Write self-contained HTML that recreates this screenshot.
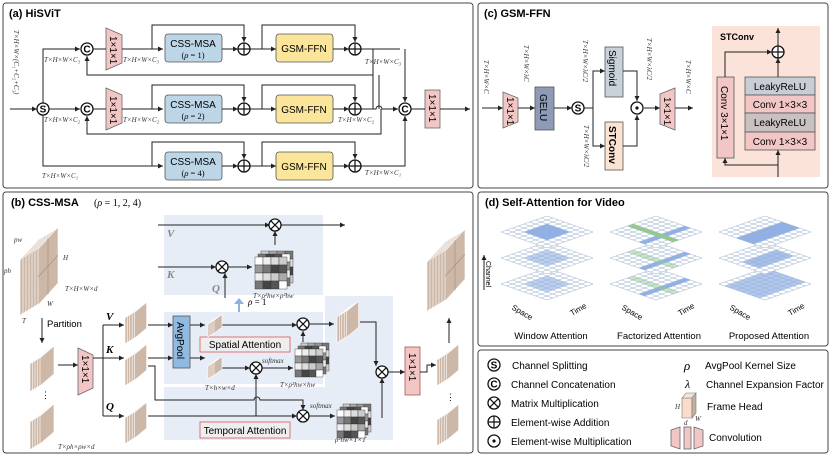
<!DOCTYPE html>
<html><head><meta charset="utf-8"><style>
body{margin:0;background:#fff}
svg{display:block}
.t{font-family:"Liberation Sans",sans-serif}
.ti{font-family:"Liberation Sans",sans-serif;font-weight:bold;font-size:11px}
.m{font-family:"Liberation Serif",serif;font-style:italic;font-size:7px;fill:#333}
.bx{font-family:"Liberation Sans",sans-serif;font-size:10px}
.ln{stroke:#222;stroke-width:1;fill:none}
</style></head><body>
<svg id="s" width="831" height="456" viewBox="0 0 831 456" xmlns="http://www.w3.org/2000/svg">
<defs>
<marker id="a" markerWidth="6" markerHeight="6" refX="5" refY="3" orient="auto" markerUnits="userSpaceOnUse"><path d="M0,0.5L5,3L0,5.5z" fill="#222"/></marker>
</defs>
<rect x="3" y="3" width="470" height="185" rx="3" fill="none" stroke="#444"/>
<rect x="478" y="3" width="350" height="185" rx="3" fill="none" stroke="#444"/>
<rect x="3" y="192" width="470" height="261" rx="3" fill="none" stroke="#444"/>
<rect x="478" y="192" width="350" height="154" rx="3" fill="none" stroke="#444"/>
<rect x="478" y="350" width="350" height="103" rx="3" fill="none" stroke="#444"/>
<text class="ti" x="9" y="17">(a) HiSViT</text>
<text class="ti" x="484" y="17">(c) GSM-FFN</text>
<text class="ti" x="11" y="206">(b) CSS-MSA</text>
<text x="94" y="206" font-family="Liberation Serif" font-size="10">(<tspan font-style="italic">ρ</tspan> = 1, 2, 4)</text>
<text class="ti" x="485" y="206">(d) Self-Attention for Video</text>

<!-- ===== (a) ===== -->
<g id="pa">
<line class="ln" x1="10" y1="109" x2="37" y2="109" marker-end="url(#a)"/>
<text class="m" transform="translate(14,30) rotate(90)">T×H×W×(C₁+C₂+C₃)</text>
<path class="ln" d="M43,103V49H80" marker-end="url(#a)"/>
<line class="ln" x1="49" y1="109" x2="80" y2="109" marker-end="url(#a)"/>
<path class="ln" d="M43,115V166H163" marker-end="url(#a)"/>
<text class="m" x="44" y="62">T×H×W×C₃</text>
<text class="m" x="44" y="122">T×H×W×C₂</text>
<text class="m" x="42" y="178">T×H×W×C₁</text>
<g fill="#f3c6c6" stroke="#666" stroke-width="0.8">
<polygon points="106,28 122,35 122,63 106,70"/>
<polygon points="106,88 122,95 122,123 106,130"/>
</g>
<text class="bx" font-size="11" transform="translate(110,36) rotate(90)">1×1×1</text>
<text class="bx" font-size="11" transform="translate(110,96) rotate(90)">1×1×1</text>
<line class="ln" x1="93" y1="49" x2="106" y2="49"/><line class="ln" x1="93" y1="109" x2="106" y2="109"/>
<line class="ln" x1="122" y1="49" x2="163" y2="49" marker-end="url(#a)"/>
<line class="ln" x1="122" y1="109" x2="163" y2="109" marker-end="url(#a)"/>
<text class="m" x="123" y="62">T×H×W×C₃</text>
<text class="m" x="123" y="122">T×H×W×C₂</text>
<g fill="#bcd6e8" stroke="#555" stroke-width="0.8">
<rect x="165" y="34" width="57" height="28" rx="3"/><rect x="165" y="95" width="57" height="28" rx="3"/><rect x="165" y="152" width="57" height="28" rx="3"/>
</g>
<g class="bx" text-anchor="middle" font-size="11.5">
<text x="193" y="47">CSS-MSA</text><text x="193" y="108">CSS-MSA</text><text x="193" y="165">CSS-MSA</text>
</g>
<g font-family="Liberation Serif" font-size="8.5" text-anchor="middle">
<text x="193" y="58">(<tspan font-style="italic">ρ</tspan> = 1)</text><text x="193" y="119">(<tspan font-style="italic">ρ</tspan> = 2)</text><text x="193" y="176">(<tspan font-style="italic">ρ</tspan> = 4)</text>
</g>
<g fill="#fbe59a" stroke="#555" stroke-width="0.8">
<rect x="276" y="34" width="57" height="28" rx="3"/><rect x="276" y="95" width="57" height="28" rx="3"/><rect x="276" y="152" width="57" height="28" rx="3"/>
</g>
<g class="bx" text-anchor="middle" font-size="11.5">
<text x="304" y="52">GSM-FFN</text><text x="304" y="113">GSM-FFN</text><text x="304" y="170">GSM-FFN</text>
</g>
<path class="ln" d="M373,49H400" />
<path class="ln" d="M373,75H87V56" marker-end="url(#a)"/>
<path class="ln" d="M373,49V109"/>
<path class="ln" d="M379,75V109"/>
<path class="ln" d="M365,109H376a3,3 0 0 1 6,0H398" marker-end="url(#a)"/>
<path class="ln" d="M405,49V102" marker-end="url(#a)"/>
<path class="ln" d="M381,109V134H87V116" marker-end="url(#a)"/>
<path class="ln" d="M365,166H405V116" marker-end="url(#a)"/>
<text class="m" x="365" y="64">T×H×W×C₃</text>
<text class="m" x="338" y="122">T×H×W×C₂</text>
<text class="m" x="365" y="175">T×H×W×C₁</text>
<rect x="425" y="90" width="15" height="38" fill="#f3c6c6" stroke="#666" stroke-width="0.8"/>
<text class="bx" font-size="11" transform="translate(429,94) rotate(90)">1×1×1</text>
<line class="ln" x1="411" y1="109" x2="425" y2="109"/>
<line class="ln" x1="440" y1="109" x2="470" y2="109" marker-end="url(#a)"/>
</g>

<!-- ===== (c) ===== -->
<line class="ln" x1="482" y1="108" x2="503" y2="108" marker-end="url(#a)"/>
<polygon points="503,92 518,98 518,122 503,128" fill="#f3c6c6" stroke="#666" stroke-width="0.8"/>
<text class="bx" transform="translate(507,97) rotate(90)">1×1×1</text>
<line class="ln" x1="518" y1="108" x2="535" y2="108" marker-end="url(#a)"/>
<rect x="535" y="87" width="19" height="43" fill="#8e9bb6" stroke="#555" stroke-width="0.8"/>
<text class="bx" font-size="11" transform="translate(540,94) rotate(90)">GELU</text>
<line class="ln" x1="554" y1="108" x2="572" y2="108" marker-end="url(#a)"/>
<path class="ln" d="M584,108H593M593,108V71H605" marker-end="url(#a)"/>
<path class="ln" d="M593,108V146H605" marker-end="url(#a)"/>
<rect x="605" y="47" width="18" height="50" fill="#c9d1da" stroke="#555" stroke-width="0.8"/>
<text class="bx" font-size="11" transform="translate(609,50) rotate(90)">Sigmoid</text>
<rect x="605" y="122" width="18" height="48" fill="#fbe3d2" stroke="#555" stroke-width="0.8"/>
<text class="bx" font-size="11" font-weight="bold" transform="translate(609,126) rotate(90)">STConv</text>
<path class="ln" d="M623,71H637V101" marker-end="url(#a)"/>
<path class="ln" d="M623,146H637V115" marker-end="url(#a)"/>
<line class="ln" x1="644" y1="108" x2="660" y2="108" marker-end="url(#a)"/>
<polygon points="660,94 675,88 675,130 660,124" fill="#f3c6c6" stroke="#666" stroke-width="0.8"/>
<text class="bx" transform="translate(664,97) rotate(90)">1×1×1</text>
<line class="ln" x1="675" y1="108" x2="693" y2="108" marker-end="url(#a)"/>
<text class="m" transform="translate(484,60) rotate(90)">T×H×W×C</text>
<text class="m" transform="translate(524,45) rotate(90)">T×H×W×λC</text>
<text class="m" transform="translate(583,40) rotate(90)">T×H×W×λC/2</text>
<text class="m" transform="translate(584,125) rotate(90)">T×H×W×λC/2</text>
<text class="m" transform="translate(647,38) rotate(90)">T×H×W×λC/2</text>
<text class="m" transform="translate(686,60) rotate(90)">T×H×W×C</text>
<rect x="712" y="26" width="108" height="151" fill="#fbe3d9"/>
<text class="t" font-weight="bold" font-size="9" x="720" y="40">STConv</text>
<rect x="717" y="77" width="17" height="81" fill="#f3c6c6" stroke="#555" stroke-width="0.8"/>
<text class="bx" font-size="9.5" transform="translate(721,86) rotate(90)">Conv 3×1×1</text>
<g stroke="#555" stroke-width="0.8">
<rect x="745" y="77" width="70" height="18" fill="#c9ced6"/>
<rect x="745" y="95" width="70" height="18" fill="#f3c6c6"/>
<rect x="745" y="113" width="70" height="19" fill="#c9c1c1"/>
<rect x="745" y="132" width="70" height="18" fill="#f3c6c6"/>
</g>
<g class="bx" font-size="9.5" text-anchor="middle">
<text x="780" y="90">LeakyReLU</text><text x="780" y="108">Conv 1×3×3</text><text x="780" y="126">LeakyReLU</text><text x="780" y="145">Conv 1×3×3</text>
</g>
<path class="ln" d="M778,177V150" marker-end="url(#a)"/>
<path class="ln" d="M778,165H725V158" marker-end="url(#a)"/>
<path class="ln" d="M778,77V58" marker-end="url(#a)"/>
<path class="ln" d="M725,77V52H772" marker-end="url(#a)"/>
<path class="ln" d="M778,46V28" marker-end="url(#a)"/>

<!-- ===== (b) ===== -->
<rect x="164" y="215" width="159" height="80" fill="#e6edf7"/>
<rect x="164" y="312" width="159" height="72" fill="#e6edf7"/>
<rect x="164" y="387" width="229" height="53" fill="#e6edf7"/>
<rect x="325" y="296" width="68" height="144" fill="#e6edf7"/>
<line class="ln" x1="42" y1="318" x2="42" y2="343" marker-end="url(#a)"/>
<text class="t" font-size="9.5" x="47" y="327">Partition</text>
<text class="t" font-size="9" x="41" y="398">⋮</text>
<text class="m" x="58" y="449">T×ρh×ρw×d</text>
<text class="m" x="65" y="291">T×H×W×d</text>
<text class="m" x="63" y="260">H</text><text class="m" x="47" y="306">W</text><text class="m" x="22" y="323">T</text>
<text class="m" x="14" y="242">pw</text><text class="m" x="4" y="273">ph</text>
<line class="ln" x1="58" y1="365" x2="78" y2="365" marker-end="url(#a)"/>
<polygon points="78,348 93,355 93,388 78,395" fill="#f3c6c6" stroke="#666" stroke-width="0.8"/>
<text class="bx" font-size="11" transform="translate(82,355) rotate(90)">1×1×1</text>
<path class="ln" d="M93,358H103M103,325V416"/>
<line class="ln" x1="103" y1="325" x2="124" y2="325" marker-end="url(#a)"/>
<line class="ln" x1="103" y1="358" x2="124" y2="358" marker-end="url(#a)"/>
<line class="ln" x1="103" y1="416" x2="124" y2="416" marker-end="url(#a)"/>
<g font-family="Liberation Serif" font-weight="bold" font-style="italic" font-size="11">
<text x="106" y="320">V</text><text x="106" y="353">K</text><text x="106" y="410">Q</text>
</g>
<g font-family="Liberation Serif" font-weight="bold" font-style="italic" font-size="11" fill="#888">
<text x="167" y="237">V</text><text x="167" y="278">K</text><text x="212" y="292">Q</text>
</g>
<line class="ln" x1="158" y1="225" x2="270" y2="225" marker-end="url(#a)"/>
<line class="ln" x1="280" y1="225" x2="345" y2="225" marker-end="url(#a)"/>
<line class="ln" x1="158" y1="267" x2="216" y2="267" marker-end="url(#a)"/>
<line class="ln" x1="228" y1="267" x2="252" y2="267" marker-end="url(#a)"/>
<line class="ln" x1="225" y1="298" x2="225" y2="273" marker-end="url(#a)"/>
<line class="ln" x1="275" y1="245" x2="275" y2="231" marker-end="url(#a)"/>
<text class="m" x="253" y="298">T×ρ²hw×ρ²hw</text>
<path d="M238,312V304h-4l5,-6l5,6h-4v8z" fill="#8fb0e0"/>
<text font-family="Liberation Serif" font-size="9" x="248" y="305"><tspan font-style="italic">ρ</tspan> = 1</text>
<line class="ln" x1="148" y1="325" x2="173" y2="325" marker-end="url(#a)"/>
<path class="ln" d="M148,358H173" marker-end="url(#a)"/>
<rect x="173" y="316" width="17" height="52" fill="#8fbbe3" stroke="#555" stroke-width="0.8"/>
<text class="bx" font-size="9.5" transform="translate(177,322) rotate(90)">AvgPool</text>
<line class="ln" x1="190" y1="325" x2="205" y2="325" marker-end="url(#a)"/>
<line class="ln" x1="190" y1="358" x2="205" y2="358" marker-end="url(#a)"/>
<line class="ln" x1="222" y1="325" x2="297" y2="325" marker-end="url(#a)"/>
<line class="ln" x1="222" y1="368" x2="250" y2="368" marker-end="url(#a)"/>
<line class="ln" x1="262" y1="368" x2="293" y2="368" marker-end="url(#a)"/>
<line class="ln" x1="303" y1="342" x2="303" y2="331" marker-end="url(#a)"/>
<line class="ln" x1="309" y1="324" x2="334" y2="324" marker-end="url(#a)"/>
<rect x="200" y="337" width="90" height="15" fill="#eee" stroke="#d55" stroke-width="0.8"/>
<text class="bx" font-size="9.5" x="245" y="348" text-anchor="middle">Spatial Attention</text>
<text class="m" x="262" y="363">softmax</text>
<text class="m" x="205" y="390">T×h×w×d</text>
<text class="m" x="280" y="387">T×ρ²hw×hw</text>
<path class="ln" d="M148,366H155V400H254a3,3 0 0 1 6,0H303V410" marker-end="url(#a)"/>
<path class="ln" d="M148,416H297" marker-end="url(#a)"/>
<path class="ln" d="M256,416V374" marker-end="url(#a)"/>
<line class="ln" x1="309" y1="416" x2="335" y2="416" marker-end="url(#a)"/>
<rect x="200" y="422" width="90" height="16" fill="#eee" stroke="#d55" stroke-width="0.8"/>
<text class="bx" font-size="9.5" x="245" y="434" text-anchor="middle">Temporal Attention</text>
<text class="m" x="310" y="408">softmax</text>
<text class="m" x="335" y="442">ρ²hw×T×T</text>
<path class="ln" d="M360,322H376V366" marker-end="url(#a)"/>
<path class="ln" d="M382,418V378" marker-end="url(#a)"/>
<line class="ln" x1="386" y1="372" x2="405" y2="372" marker-end="url(#a)"/>
<rect x="405" y="347" width="15" height="48" fill="#f3c6c6" stroke="#a55" stroke-width="0.8"/>
<text class="bx" font-size="11" transform="translate(409,353) rotate(90)">1×1×1</text>
<path class="ln" d="M420,372H427V365H436" marker-end="url(#a)"/>
<line class="ln" x1="449" y1="343" x2="449" y2="318" marker-end="url(#a)"/>
<text class="t" font-size="9" x="446" y="400">⋮</text>

<!-- ===== legend ===== -->
<g id="leg" font-family="Liberation Sans" font-size="10">
<text x="512" y="369">Channel Splitting</text>
<text x="511" y="388">Channel Concatenation</text>
<text x="511" y="407">Matrix Multiplication</text>
<text x="511" y="426">Element-wise Addition</text>
<text x="511" y="445">Element-wise Multiplication</text>
<text x="705" y="369">AvgPool Kernel Size</text>
<text x="706" y="388">Channel Expansion Factor</text>
<text x="707" y="410">Frame Head</text>
<text x="709" y="441">Convolution</text>
<text x="684" y="370" font-family="Liberation Serif" font-style="italic" font-size="13">ρ</text>
<text x="685" y="388" font-family="Liberation Serif" font-style="italic" font-size="12">λ</text>
</g>
<polygon points="682,398 692,398 692,418 682,418" fill="#f9dccb" stroke="#777" stroke-width="0.6"/>
<polygon points="682,398 686,393 696,393 692,398" fill="#f4e2d6" stroke="#777" stroke-width="0.6"/>
<polygon points="692,398 696,393 696,413 692,418" fill="#c5b0a0" stroke="#777" stroke-width="0.6"/>
<text class="m" x="675" y="409">H</text><text class="m" x="684" y="425">d</text><text class="m" x="695" y="421">W</text>
<g fill="#f3c6c6" stroke="#666" stroke-width="0.8">
<polygon points="671,430 680,427 680,449 671,446"/>
<rect x="684" y="427" width="7" height="22"/>
<polygon points="694,427 703,430 703,446 694,449"/>
</g>

<g id="grids"></g>
<g font-family="Liberation Sans" font-size="9.5" text-anchor="middle">
<text x="551" y="339">Window Attention</text>
<text x="659" y="339">Factorized Attention</text>
<text x="769" y="339">Proposed Attention</text>
</g>
<g font-family="Liberation Sans" font-size="8">
<text transform="translate(511,309) rotate(30)">Space</text><text transform="translate(572,316) rotate(-30)">Time</text>
<text transform="translate(621,309) rotate(30)">Space</text><text transform="translate(680,316) rotate(-30)">Time</text>
<text transform="translate(729,309) rotate(30)">Space</text><text transform="translate(790,316) rotate(-30)">Time</text>
<text transform="translate(486,261) rotate(90)" font-size="7">Channel</text>
</g>
<line class="ln" x1="484" y1="290" x2="484" y2="255" marker-end="url(#a)"/>
</svg>
<script>
const NS="http://www.w3.org/2000/svg",S=document.getElementById('s');
function el(t,a,p){const e=document.createElementNS(NS,t);for(const k in a)e.setAttribute(k,a[k]);(p||S).appendChild(e);return e;}
function circ(cx,cy,ch){el('circle',{cx,cy,r:6,fill:'#fff',stroke:'#111','stroke-width':1.3});
 if(ch=='+'){el('path',{d:`M${cx-6},${cy}H${cx+6}M${cx},${cy-6}V${cy+6}`,stroke:'#111','stroke-width':1.2});}
 else if(ch=='x'){el('path',{d:`M${cx-4.2},${cy-4.2}L${cx+4.2},${cy+4.2}M${cx+4.2},${cy-4.2}L${cx-4.2},${cy+4.2}`,stroke:'#111','stroke-width':1.2});}
 else if(ch=='.'){el('circle',{cx,cy,r:1.6,fill:'#111'});}
 else {const t=el('text',{x:cx,y:cy+3.5,'text-anchor':'middle','font-family':'Liberation Sans','font-weight':'bold','font-size':10});t.textContent=ch;}}
[49,109,166].forEach(y=>{
 const top=y-24;
 el('path',{d:`M152,${y}V${top}H244V${y-7}`,class:'ln','marker-end':'url(#a)'});
 el('line',{x1:222,y1:y,x2:238,y2:y,class:'ln','marker-end':'url(#a)'});
 el('line',{x1:250,y1:y,x2:276,y2:y,class:'ln','marker-end':'url(#a)'});
 el('path',{d:`M262,${y}V${top}H355V${y-7}`,class:'ln','marker-end':'url(#a)'});
 el('line',{x1:333,y1:y,x2:349,y2:y,class:'ln','marker-end':'url(#a)'});
 el('line',{x1:361,y1:y,x2:373,y2:y,class:'ln'});
 circ(244,y,'+');circ(355,y,'+');
});
circ(43,109,'S');circ(87,49,'C');circ(87,109,'C');circ(405,109,'C');
circ(578,108,'S');circ(637,108,'.');circ(778,52,'+');
circ(275,225,'x');circ(222,267,'x');circ(303,324,'x');circ(256,368,'x');circ(303,416,'x');circ(382,372,'x');
circ(494,365,'S');circ(494,384,'C');circ(494,403,'x');circ(494,422,'+');circ(494,441,'.');
function stack(x,y,w,h,sk,n,dx,grid){for(let i=0;i<n;i++){const X=x+i*dx,Y=y-i*dx*0.6;
 el('polygon',{points:`${X},${Y+sk} ${X+w},${Y} ${X+w},${Y+h} ${X},${Y+h+sk}`,fill:'#cdb8a8',stroke:'#fff','stroke-width':0.6});
 if(grid&&i==n-1){el('line',{x1:X+w/2,y1:Y+sk/2,x2:X+w/2,y2:Y+h+sk/2,stroke:'#a08878','stroke-width':0.6});
  el('line',{x1:X,y1:Y+sk+h/2,x2:X+w,y2:Y+h/2,stroke:'#a08878','stroke-width':0.6});}}}
stack(20,238,20,56,22,7,3,true);
stack(30,352,14,28,12,5,2.5);stack(30,410,14,28,12,5,2.5);
stack(125,308,12,26,10,5,2.4);stack(125,350,12,26,10,5,2.4);stack(125,408,12,26,10,5,2.4);
stack(208,318,8,13,6,4,2);stack(208,360,8,13,6,4,2);
stack(337,307,12,26,10,5,2.4);
stack(427,240,20,50,22,7,3,true);
stack(437,350,12,26,10,5,2.4);stack(437,410,12,26,10,5,2.4);
function mat(x,y,s,n,layers){const g=['#fff','#ddd','#aaa','#777','#555','#eee','#ccc','#999','#444'];
 for(let l=layers-1;l>=0;l--){const X=x+l*3,Y=y-l*3;for(let i=0;i<n;i++)for(let j=0;j<n;j++)
  el('rect',{x:X+j*s,y:Y+i*s,width:s,height:s,fill:g[(i*7+j*5+l*3)%9],stroke:'#333','stroke-width':0.4});}}
mat(255,257,8,4,3);mat(295,349,7,4,3);mat(337,410,7,4,3);
function grid(cx,cy,hl){const a=46,b=16,n=8,g=el('g',{});
 const P=(u,v)=>[cx-a+(u+v)*a/n, cy+(v-u)*b/n];
 const poly=(pts,f,o)=>el('polygon',{points:pts.map(p=>p.join(',')).join(' '),fill:f,'fill-opacity':o,stroke:'none'},g);
 poly([P(0,0),P(n,0),P(n,n),P(0,n)],'#fff',1);
 (hl||[]).forEach(h=>poly([P(h[0],h[1]),P(h[2],h[1]),P(h[2],h[3]),P(h[0],h[3])],h[4],h[5]||1));
 for(let i=0;i<=n;i++){let p=P(i,0),q=P(i,n);el('line',{x1:p[0],y1:p[1],x2:q[0],y2:q[1],stroke:'#9ab0cc','stroke-width':0.5},g);
  p=P(0,i);q=P(n,i);el('line',{x1:p[0],y1:p[1],x2:q[0],y2:q[1],stroke:'#9ab0cc','stroke-width':0.5},g);}}
const B='#8fb0ea',G='#8fd07a';
[[547,'w'],[656,'f'],[765,'p']].forEach(([cx,k])=>{
 [284,258,232].forEach((cy,li)=>{let h=[];
  if(k=='w')h=[[2,2,6,6,B,li==2?1:0.6]];
  if(k=='f'){h=[[0,5,8,6,B],[3,0,4,8,G,li==2?1:0.5]];}
  if(k=='p'){if(li==2)h=[[0,3,8,6,B]];if(li==1)h=[[1,3,7,6,B,0.8]];if(li==0)h=[[0,1,8,7,B,0.7]];}
  grid(cx,cy,h);});});
</script>
</body></html>
